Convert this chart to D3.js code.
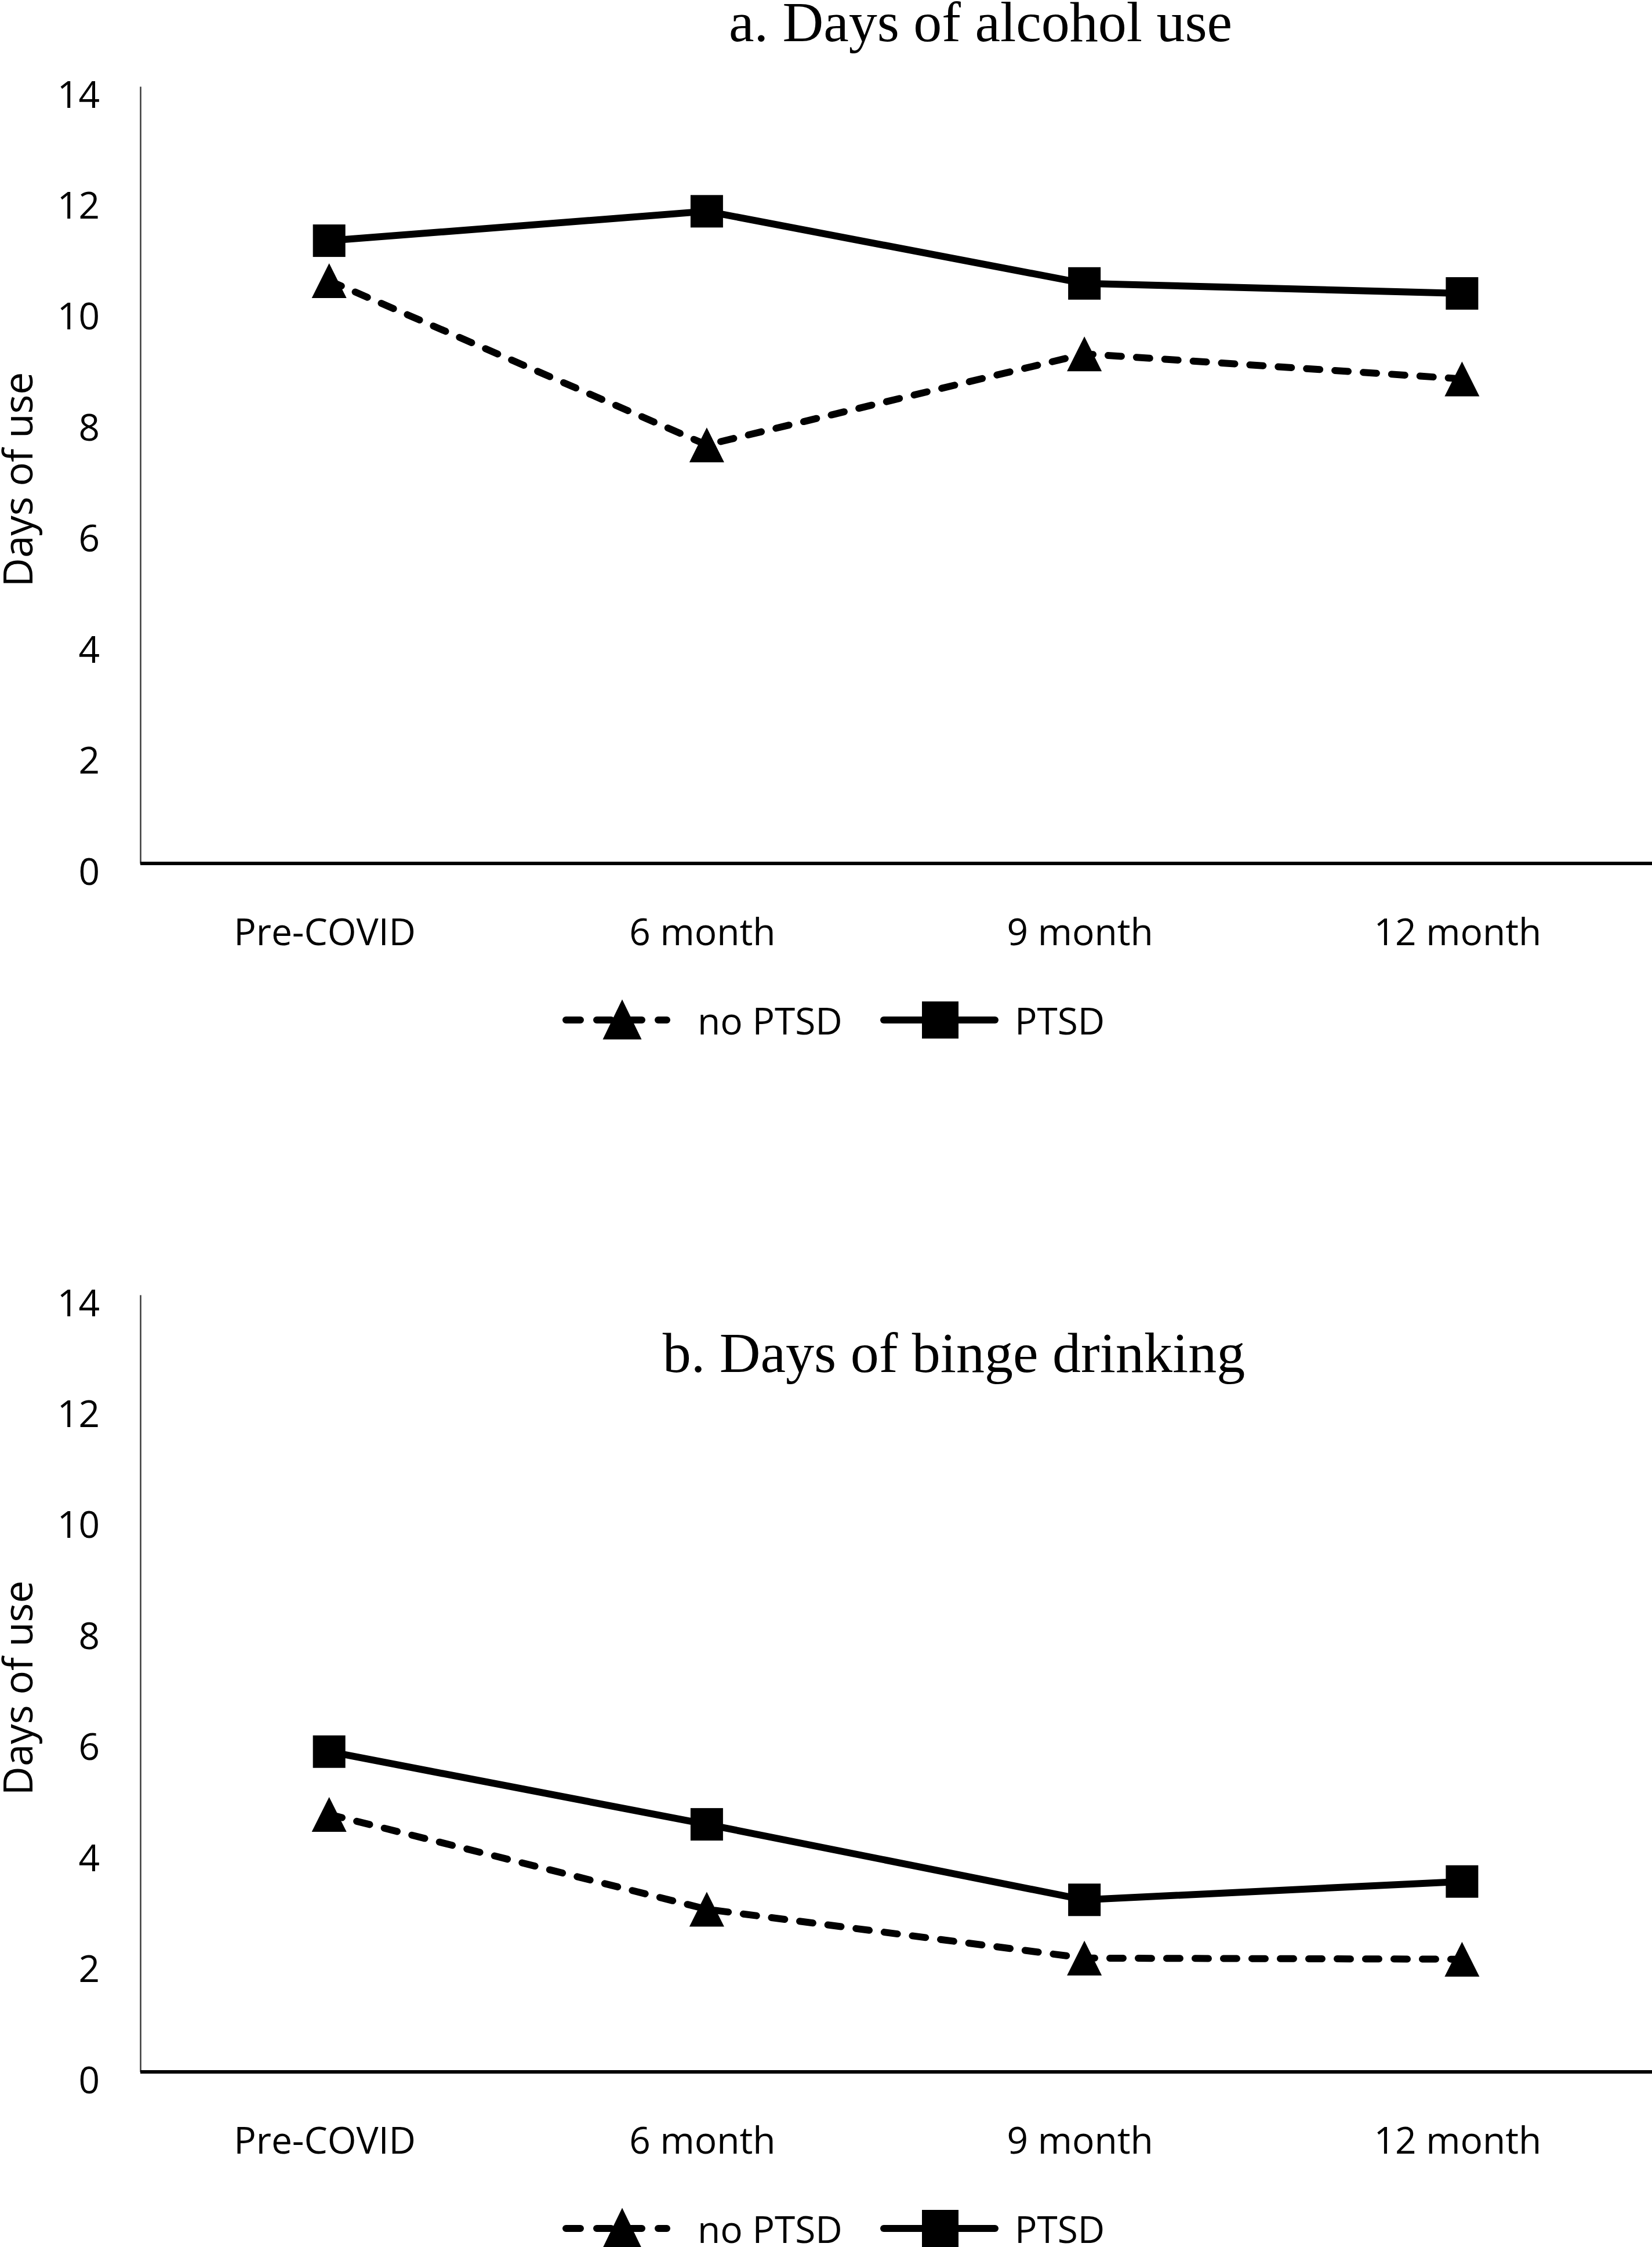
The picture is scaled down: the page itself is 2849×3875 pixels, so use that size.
<!DOCTYPE html>
<html>
<head>
<meta charset="utf-8">
<script src="https://cdn.jsdelivr.net/npm/d3@7"></script>
<style>
  html, body { margin: 0; padding: 0; background: #fff; }
  svg { display: block; }
</style>
</head>
<body>
<script>
// ---- data ----
const categories = ["Pre-COVID", "6 month", "9 month", "12 month"];
const yTicks = [0, 2, 4, 6, 8, 10, 12, 14];
const seriesNames = ["no PTSD", "PTSD"];
const alcoholNoPTSD = [10.5, 7.54, 9.18, 8.73];
const alcoholPTSD = [11.22, 11.75, 10.45, 10.27];
const bingeNoPTSD = [4.64, 2.93, 2.05, 2.03];
const bingePTSD = [5.77, 4.46, 3.10, 3.43];
const titles = ["a. Days of alcohol use", "b. Days of binge drinking"];
const yTitle = "Days of use";

// ---- layout ----
const W = 2849, H = 3875;
const svg = d3.select("body").append("svg").attr("width", W).attr("height", H)
  .style("background", "#fff");

const sans = "'Open Sans', 'Noto Sans', sans-serif";
const serif = "'Liberation Serif', 'Times New Roman', serif";

const x = d3.scalePoint().domain(categories).range([242, 2847]).padding(0.5);
const y = d3.scaleLinear().domain([0, 14]).range([1489, 149]);

const panels = [
  { dy: 0, noP: alcoholNoPTSD, p: alcoholPTSD, title: titles[0], tx: 1691, ty: 71 },
  { dy: 2084, noP: bingeNoPTSD, p: bingePTSD, title: titles[1], tx: 1645, ty: 2366 - 2084 }
];

function triPath(w, h) {
  return `M0,${-h/2}L${w/2},${h/2}L${-w/2},${h/2}Z`;
}

panels.forEach(pn => {
  const g = svg.append("g").attr("transform", `translate(0,${pn.dy})`);

  // title
  g.append("text").attr("x", pn.tx).attr("y", pn.ty)
    .attr("text-anchor", "middle")
    .style("font-family", serif).style("font-size", "98px").attr("fill", "#000")
    .text(pn.title);

  // y axis
  const ya = g.append("g").attr("transform", "translate(242,0)")
    .call(d3.axisLeft(y).tickValues(yTicks).tickSize(0).tickSizeOuter(0).tickPadding(70));
  ya.select(".domain").attr("stroke", "#3a3a3a").attr("stroke-width", 2.5);
  ya.selectAll("text").attr("dy", "36px")
    .style("font-family", sans).style("font-size", "64px").attr("fill", "#000");

  // x axis
  const xa = g.append("g").attr("transform", `translate(0,${y(0)})`)
    .call(d3.axisBottom(x).tickSize(0).tickSizeOuter(0));
  xa.select(".domain").attr("d", `M242,0H${W}`).attr("stroke", "#000").attr("stroke-width", 6);
  xa.selectAll("text").attr("y", 141).attr("dy", 0).attr("dx", "-8px")
    .style("font-family", sans).style("font-size", "64px").attr("fill", "#000");

  // y title
  g.append("text").attr("transform", "translate(56,827) rotate(-90)")
    .attr("text-anchor", "middle")
    .style("font-family", sans).style("font-size", "69px").attr("fill", "#000")
    .text(yTitle);

  const line = d3.line().x((d, i) => x(categories[i])).y(d => y(d));

  // no PTSD dashed line
  g.append("path").datum(pn.noP).attr("d", line)
    .attr("fill", "none").attr("stroke", "#000").attr("stroke-width", 12)
    .attr("stroke-linecap", "round").attr("stroke-dasharray", "23,26");
  // PTSD solid line
  g.append("path").datum(pn.p).attr("d", line)
    .attr("fill", "none").attr("stroke", "#000").attr("stroke-width", 12);

  // markers
  g.selectAll(".tri").data(pn.noP).enter().append("path")
    .attr("d", triPath(60, 60))
    .attr("transform", (d, i) => `translate(${x(categories[i])},${y(d)})`)
    .attr("fill", "#000");
  g.selectAll(".sq").data(pn.p).enter().append("rect")
    .attr("x", (d, i) => x(categories[i]) - 28).attr("y", d => y(d) - 28)
    .attr("width", 56).attr("height", 56).attr("fill", "#000");

  // legend
  const lg = g.append("g").attr("transform", "translate(0,1759)");
  lg.append("line").attr("x1", 976).attr("x2", 1150).attr("y1", 0).attr("y2", 0)
    .attr("stroke", "#000").attr("stroke-width", 12).attr("stroke-linecap", "round")
    .attr("stroke-dasharray", "25,28");
  lg.append("path").attr("d", triPath(67, 69)).attr("transform", "translate(1073,-1)")
    .attr("fill", "#000");
  lg.append("text").attr("x", 1203).attr("y", 25)
    .style("font-family", sans).style("font-size", "64px").attr("fill", "#000")
    .text(seriesNames[0]);
  lg.append("line").attr("x1", 1524).attr("x2", 1716).attr("y1", 0).attr("y2", 0)
    .attr("stroke", "#000").attr("stroke-width", 12).attr("stroke-linecap", "round");
  lg.append("rect").attr("x", 1590).attr("y", -32).attr("width", 63).attr("height", 64)
    .attr("fill", "#000");
  lg.append("text").attr("x", 1750).attr("y", 25)
    .style("font-family", sans).style("font-size", "64px").attr("fill", "#000")
    .text(seriesNames[1]);
});
</script>
</body>
</html>
